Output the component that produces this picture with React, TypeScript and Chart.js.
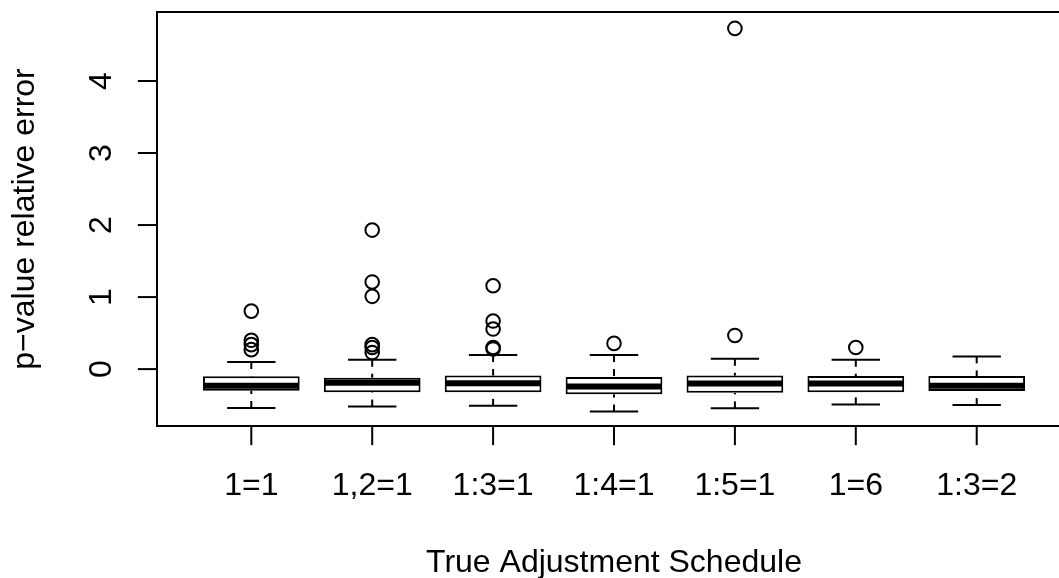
import React, { useEffect, useRef } from 'react';
import { Chart, registerables } from 'chart.js';

Chart.register(...registerables);

// ---- data ----
const categories = ['1=1', '1,2=1', '1:3=1', '1:4=1', '1:5=1', '1=6', '1:3=2'];
const whiskerLow = [-0.54, -0.52, -0.51, -0.59, -0.545, -0.49, -0.5];
const q1 = [-0.3, -0.32, -0.32, -0.35, -0.33, -0.32, -0.305];
const median = [-0.23, -0.19, -0.195, -0.24, -0.2, -0.2, -0.23];
const q3 = [-0.1, -0.12, -0.09, -0.11, -0.09, -0.097, -0.097];
const whiskerHigh = [0.097, 0.13, 0.195, 0.195, 0.143, 0.13, 0.176];
const outliers1 = [0.805, 0.4, 0.34, 0.27];
const outliers2 = [1.93, 1.21, 1.01, 0.34, 0.3, 0.23];
const outliers3 = [1.157, 0.667, 0.556, 0.3, 0.28];
const outliers4 = [0.357];
const outliers5 = [4.73, 0.467];
const outliers6 = [0.3];
const outliers7: number[] = [];
const outlierLists = [outliers1, outliers2, outliers3, outliers4, outliers5, outliers6, outliers7];
const yTicks = [0, 1, 2, 3, 4];
const xTitle = 'True Adjustment Schedule';
const yTitle = 'p\u2212value relative error';

const FONT = '"Liberation Sans", Arial, Helvetica, sans-serif';
const FONT_SIZE = 32;
const LINE = 38.3; // one margin line in px

const rPlugin = {
  id: 'rBoxplot',
  afterDatasetsDraw(chart: any) {
    const ctx: CanvasRenderingContext2D = chart.ctx;
    const xs = chart.scales.x;
    const ys = chart.scales.y;
    const area = chart.chartArea;
    ctx.save();
    ctx.strokeStyle = '#000';
    ctx.lineCap = 'butt';
    const seg = (x1: number, y1: number, x2: number, y2: number) => {
      ctx.beginPath();
      ctx.moveTo(x1, y1);
      ctx.lineTo(x2, y2);
      ctx.stroke();
    };
    categories.forEach((_, i) => {
      const v = i + 1;
      const cx = xs.getPixelForValue(v);
      const bl = xs.getPixelForValue(v - 0.4);
      const br = xs.getPixelForValue(v + 0.4);
      const cl = xs.getPixelForValue(v - 0.2);
      const cr = xs.getPixelForValue(v + 0.2);
      ctx.lineWidth = 2;
      ctx.setLineDash([7, 7]);
      seg(cx, ys.getPixelForValue(whiskerHigh[i]), cx, ys.getPixelForValue(q3[i]));
      seg(cx, ys.getPixelForValue(whiskerLow[i]), cx, ys.getPixelForValue(q1[i]));
      ctx.setLineDash([]);
      seg(cl, ys.getPixelForValue(whiskerHigh[i]), cr, ys.getPixelForValue(whiskerHigh[i]));
      seg(cl, ys.getPixelForValue(whiskerLow[i]), cr, ys.getPixelForValue(whiskerLow[i]));
      ctx.lineWidth = 6;
      const my = ys.getPixelForValue(median[i]);
      seg(bl + 1, my, br - 1, my);
    });
    // frame
    ctx.lineWidth = 2;
    ctx.strokeRect(area.left, area.top, area.right - area.left, area.bottom - area.top);
    // y ticks
    yTicks.forEach((t) => {
      const py = ys.getPixelForValue(t);
      seg(area.left - LINE / 2, py, area.left, py);
    });
    // x ticks
    categories.forEach((_, i) => {
      const px = xs.getPixelForValue(i + 1);
      seg(px, area.bottom, px, area.bottom + LINE / 2);
    });
    // text
    ctx.fillStyle = '#000';
    ctx.font = `${FONT_SIZE}px ${FONT}`;
    ctx.textAlign = 'center';
    ctx.textBaseline = 'alphabetic';
    categories.forEach((c, i) => {
      ctx.fillText(c, xs.getPixelForValue(i + 1), area.bottom + 1.8 * LINE);
    });
    const x1 = xs.getPixelForValue(1);
    const x7 = xs.getPixelForValue(7);
    ctx.fillText(xTitle, (area.left + area.right) / 2 > 1059 ? (x1 + x7) / 2 : (area.left + area.right) / 2, area.bottom + 3.8 * LINE);
    yTicks.forEach((t) => {
      const py = ys.getPixelForValue(t);
      ctx.save();
      ctx.translate(area.left - 1.2 * LINE, py);
      ctx.rotate(-Math.PI / 2);
      ctx.fillText(String(t), 0, 0);
      ctx.restore();
    });
    ctx.save();
    ctx.translate(area.left - 3.2 * LINE, (area.top + area.bottom) / 2);
    ctx.rotate(-Math.PI / 2);
    ctx.fillText(yTitle, 0, 0);
    ctx.restore();
    ctx.restore();
  },
};

export default function App() {
  const ref = useRef<HTMLCanvasElement | null>(null);
  useEffect(() => {
    if (!ref.current) return;
    const outlierPoints: { x: number; y: number }[] = [];
    outlierLists.forEach((list, i) => list.forEach((y) => outlierPoints.push({ x: i + 1, y })));
    const chart = new Chart(ref.current, {
      type: 'bar',
      data: {
        datasets: [
          {
            type: 'bar',
            data: categories.map((_, i) => ({ x: i + 1, y: [q1[i], q3[i]] })) as any,
            backgroundColor: '#ffffff',
            borderColor: '#000000',
            borderWidth: 2,
            borderSkipped: false,
            barPercentage: 0.8,
            categoryPercentage: 1,
          } as any,
          {
            type: 'scatter',
            data: outlierPoints as any,
            pointStyle: 'circle',
            pointRadius: 6.8,
            pointBorderWidth: 2,
            pointBorderColor: '#000000',
            pointBackgroundColor: 'rgba(0,0,0,0)',
          } as any,
        ],
      },
      options: {
        responsive: false,
        animation: false,
        events: [],
        layout: { padding: { left: 157, top: 12, right: 29, bottom: 152 } },
        plugins: { legend: { display: false }, tooltip: { enabled: false } },
        scales: {
          x: {
            type: 'linear',
            min: 0.22,
            max: 7.78,
            display: false,
            offset: false,
            afterBuildTicks: (scale: any) => {
              scale.ticks = categories.map((_, i) => ({ value: i + 1 }));
            },
          },
          y: { type: 'linear', min: -0.79, max: 4.958, display: false },
        },
      },
      plugins: [rPlugin],
    });
    return () => chart.destroy();
  }, []);
  return (
    <div style={{ position: 'absolute', left: 0, top: 0, width: 1059, height: 578, overflow: 'hidden', background: '#fff' }}>
      <canvas ref={ref} width={1100} height={578} style={{ width: 1100, height: 578, display: 'block' }} />
    </div>
  );
}
